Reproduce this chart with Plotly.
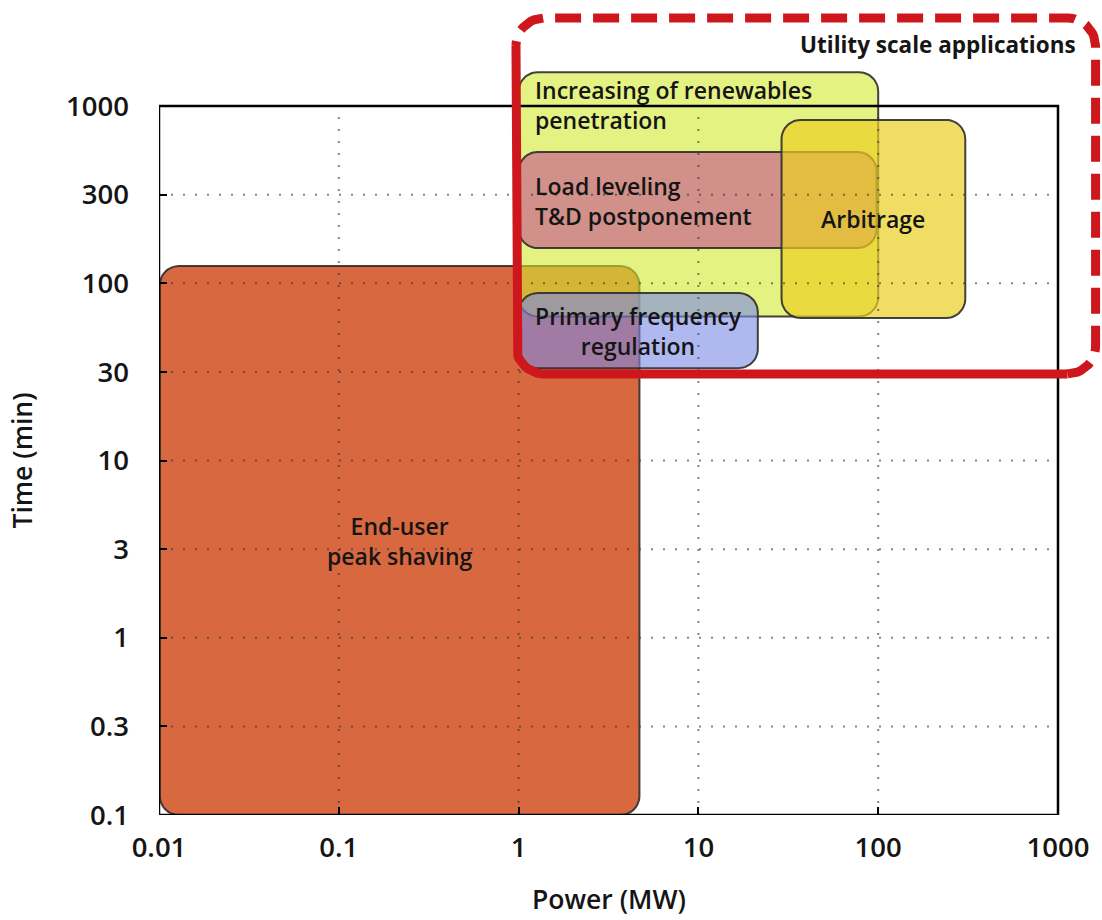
import numpy as np
import plotly.graph_objects as go

# ---------------- data ----------------
X_TICK_VALS = [0.01, 0.1, 1, 10, 100, 1000]
X_TICK_TEXT = ["0.01", "0.1", "1", "10", "100", "1000"]
Y_TICK_VALS = [0.1, 0.316, 1, 3.16, 10, 31.6, 100, 316, 1000]
Y_TICK_TEXT = ["0.1", "0.3", "1", "3", "10", "30", "100", "300", "1000"]

APP_NAMES = [
    "End-user<br>peak shaving",
    "Increasing of renewables<br>penetration",
    "Load leveling<br>T&D postponement",
    "Arbitrage",
    "Primary frequency<br>regulation",
]
POWER_MIN = [0.0101, 1.0, 1.0, 29.0, 1.0]      # MW
POWER_MAX = [4.7, 100.0, 98.0, 305.0, 21.4]    # MW
TIME_MIN = [0.1, 65.0, 158.0, 63.7, 33.2]      # min
TIME_MAX = [125.0, 1550.0, 550.0, 834.0, 88.0] # min

UTILITY_LABEL = "Utility scale applications"
UTILITY_POWER = [0.967, 1618.0]
UTILITY_TIME = [30.8, 3137.0]

FRAME_POWER = [0.01, 1000.0]
FRAME_TIME = [0.1, 1000.0]

X_TITLE = "Power (MW)"
Y_TITLE = "Time (min)"

# ---------------- styles ----------------
FILLS = [
    "rgba(212,88,42,0.9)",
    "rgba(210,233,47,0.6)",
    "rgba(202,103,141,0.7)",
    "rgba(234,208,34,0.7)",
    "rgba(123,137,230,0.6)",
]
LABEL_ALIGN = ["center", "left", "left", "center", "center"]
FONT = "Open Sans, Noto Sans, DejaVu Sans, sans-serif"
TXT = "#151515"
WT = 600

W, H = 1102, 920
ML, MR, MT, MB = 159, 0, 0, 105
PX_PER_DEC_X = 179.8
PX_PER_DEC_Y = 177.25
XR = [-2.0, -2.0 + (W - ML - MR) / PX_PER_DEC_X]
YR = [-1.0, -1.0 + (H - MT - MB) / PX_PER_DEC_Y]


def arc(cx, cy, rx, ry, a0, a1, n=14):
    a = np.radians(np.linspace(a0, a1, n))
    return list(cx + rx * np.cos(a)), list(cy + ry * np.sin(a))


def rounded_rect(x0, x1, y0, y1, r_px):
    lx0, lx1, ly0, ly1 = np.log10([x0, x1, y0, y1])
    rx, ry = r_px / PX_PER_DEC_X, r_px / PX_PER_DEC_Y
    xs, ys = [], []
    for cx, cy, a0, a1 in [
        (lx1 - rx, ly0 + ry, -90, 0),
        (lx1 - rx, ly1 - ry, 0, 90),
        (lx0 + rx, ly1 - ry, 90, 180),
        (lx0 + rx, ly0 + ry, 180, 270),
    ]:
        ax, ay = arc(cx, cy, rx, ry, a0, a1)
        xs += ax
        ys += ay
    xs.append(xs[0])
    ys.append(ys[0])
    return 10 ** np.array(xs), 10 ** np.array(ys)


fig = go.Figure()

# application boxes
for i in range(len(APP_NAMES)):
    bx, by = rounded_rect(POWER_MIN[i], POWER_MAX[i], TIME_MIN[i], TIME_MAX[i], 19)
    fig.add_trace(go.Scatter(
        x=bx, y=by, mode="lines", fill="toself", fillcolor=FILLS[i],
        line=dict(color="rgba(45,45,45,0.9)", width=2),
        hoverinfo="skip", showlegend=False,
    ))

# dotted grid lines inside the frame
gx, gy = [], []
for v in X_TICK_VALS[1:-1]:
    gx += [v, v, None]
    gy += [FRAME_TIME[0], FRAME_TIME[1], None]
for v in Y_TICK_VALS[1:-1]:
    gx += [FRAME_POWER[0], FRAME_POWER[1], None]
    gy += [v, v, None]
fig.add_trace(go.Scatter(
    x=gx, y=gy, mode="lines",
    line=dict(color="rgba(50,50,50,0.6)", width=2, dash="2px,10px"),
    hoverinfo="skip", showlegend=False,
))

# frame
fig.add_trace(go.Scatter(
    x=[FRAME_POWER[0], FRAME_POWER[1], FRAME_POWER[1], FRAME_POWER[0], FRAME_POWER[0]],
    y=[FRAME_TIME[0], FRAME_TIME[0], FRAME_TIME[1], FRAME_TIME[1], FRAME_TIME[0]],
    mode="lines", line=dict(color="black", width=2.5),
    hoverinfo="skip", showlegend=False,
))

# utility-scale red box: left + bottom solid, the rest dashed
lx0, lx1, ly0, ly1 = np.log10([UTILITY_POWER[0], UTILITY_POWER[1], UTILITY_TIME[0], UTILITY_TIME[1]])
R = 28
rx, ry = R / PX_PER_DEC_X, R / PX_PER_DEC_Y
bl = arc(lx0 + rx, ly0 + ry, rx, ry, 180, 270)
br = arc(lx1 - rx, ly0 + ry, rx, ry, 270, 360)
tr = arc(lx1 - rx, ly1 - ry, rx, ry, 0, 90)
tl = arc(lx0 + rx, ly1 - ry, rx, ry, 90, 180)
sx = [lx0] + bl[0] + [br[0][0]]
sy = [ly1 - ry] + bl[1] + [br[1][0]]
dx = br[0] + tr[0] + tl[0]
dy = br[1] + tr[1] + tl[1]
RED = "#CE161D"
fig.add_trace(go.Scatter(x=10 ** np.array(sx), y=10 ** np.array(sy), mode="lines",
                         line=dict(color=RED, width=9), hoverinfo="skip", showlegend=False))
fig.add_trace(go.Scatter(x=10 ** np.array(dx), y=10 ** np.array(dy), mode="lines",
                         line=dict(color=RED, width=9, dash="26px,12px"),
                         hoverinfo="skip", showlegend=False))

# labels
ann = []
for i, name in enumerate(APP_NAMES):
    lxa, lxb = np.log10([POWER_MIN[i], POWER_MAX[i]])
    lya, lyb = np.log10([TIME_MIN[i], TIME_MAX[i]])
    if LABEL_ALIGN[i] == "left":
        ann.append(dict(x=lxa, y=lyb, xref="x", yref="y", text=name, showarrow=False,
                        xanchor="left", yanchor="top", align="left",
                        xshift=14, yshift=(0 if i == 1 else -16),
                        font=dict(family=FONT, size=23, color=TXT, weight=WT)))
    else:
        ann.append(dict(x=(lxa + lxb) / 2, y=(lya + lyb) / 2, xref="x", yref="y", text=name,
                        showarrow=False, xanchor="center", yanchor="middle", align="center",
                        font=dict(family=FONT, size=23, color=TXT, weight=WT)))

ann.append(dict(x=lx1, y=ly1, xref="x", yref="y", text="<b>" + UTILITY_LABEL + "</b>",
                showarrow=False, xanchor="right", yanchor="top", xshift=-18, yshift=-9,
                font=dict(family=FONT, size=22.5, color=TXT)))

fig_frame_mid_x = np.mean(np.log10(FRAME_POWER))
fig_frame_mid_y = np.mean(np.log10(FRAME_TIME))
ann.append(dict(x=fig_frame_mid_x, y=-0.1035, xref="x", yref="paper", text=X_TITLE,
                showarrow=False, xanchor="center", yanchor="middle",
                font=dict(family=FONT, size=26.5, color=TXT, weight=WT)))
ann.append(dict(x=-0.1463, y=fig_frame_mid_y, xref="paper", yref="y", text=Y_TITLE,
                showarrow=False, xanchor="center", yanchor="middle", textangle=-90,
                font=dict(family=FONT, size=26.5, color=TXT, weight=WT)))

axis_common = dict(type="log", showgrid=False, showline=False, zeroline=False,
                   ticks="inside", ticklen=8, tickwidth=2, tickcolor="black",
                   automargin=False,
                   tickfont=dict(family=FONT, size=27.5, color=TXT, weight=WT))

fig.update_layout(
    width=W, height=H,
    margin=dict(l=ML, r=MR, t=MT, b=MB),
    paper_bgcolor="white", plot_bgcolor="white",
    showlegend=False,
    xaxis=dict(range=XR, tickvals=X_TICK_VALS, ticktext=X_TICK_TEXT,
               ticklabelstandoff=13, **axis_common),
    yaxis=dict(range=YR, tickvals=Y_TICK_VALS, ticktext=Y_TICK_TEXT,
               ticklabelstandoff=29, **axis_common),
    annotations=ann,
)

fig.write_html("out.html", config={"displayModeBar": False},
               post_script="document.body.style.margin='0px';")
